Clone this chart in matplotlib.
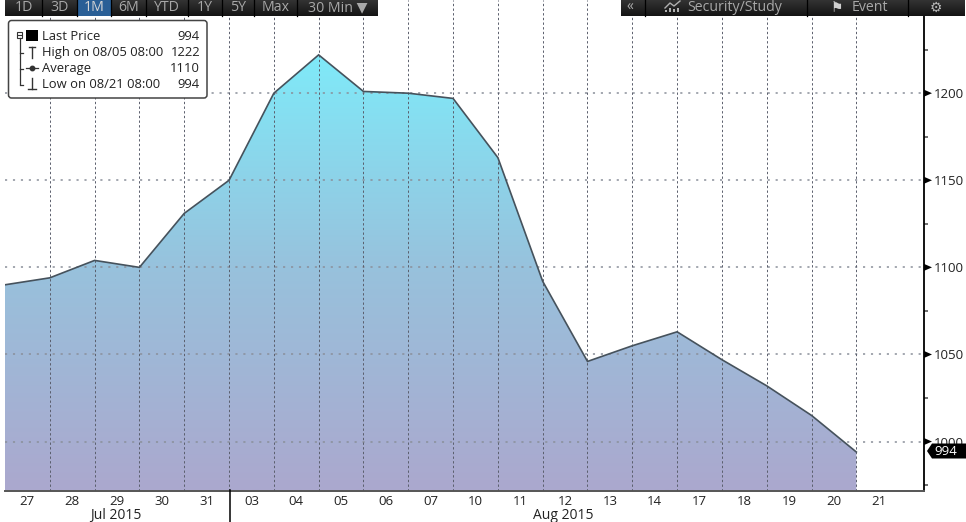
import numpy as np
import matplotlib
matplotlib.use("Agg")
import matplotlib.pyplot as plt
from matplotlib.colors import LinearSegmentedColormap
from matplotlib.patches import FancyBboxPatch, Polygon, Rectangle

plt.rcParams["font.family"] = ["Open Sans", "DejaVu Sans"]

day_labels = ["27", "28", "29", "30", "31", "03", "04", "05", "06", "07",
              "10", "11", "12", "13", "14", "17", "18", "19", "20", "21"]
prices = [1090, 1094, 1104, 1100, 1131, 1150, 1200, 1222, 1201, 1200,
          1197, 1163, 1092, 1046, 1055, 1063, 1047, 1032, 1015, 994]
y_major = [1000, 1050, 1100, 1150, 1200]
y_minor = [975, 1025, 1075, 1125, 1175, 1225]
month_labels = ["Jul 2015", "Aug 2015"]
range_buttons = ["1D", "3D", "1M", "6M", "YTD", "1Y", "5Y", "Max", "30 Min"]
button_edges = [5, 42, 77, 111, 146, 188, 222, 254, 297, 378]
legend_names = ["Last Price", "High on 08/05 08:00", "Average", "Low on 08/21 08:00"]
legend_values = ["994", "1222", "1110", "994"]

W, H = 966, 522
TEXT = "#222222"

fig = plt.figure(figsize=(W / 100, H / 100), dpi=100, facecolor="white")
ax = fig.add_axes([5 / W, 1 - 490.5 / H, 919 / W, 490.5 / H])
x = np.arange(len(prices))
ax.set_xlim(0, 20.51)
ax.set_ylim(971.9, 1253.5)

# area with vertical gradient, clipped to the price polygon
area = ax.fill_between(x, prices, 971.9, color="none", linewidth=0)
cmap = LinearSegmentedColormap.from_list("area", ["#ABA8CE", "#98C1DC", "#7FEAF9"])
img = ax.imshow(np.linspace(0, 1, 256).reshape(-1, 1), cmap=cmap, origin="lower", aspect="auto",
                extent=(0, 20.51, 971.9, max(prices)), zorder=1)
img.set_clip_path(area.get_paths()[0], ax.transData)
ax.set_xlim(0, 20.51)
ax.set_ylim(971.9, 1253.5)

ax.plot(x, prices, color="#46525c", linewidth=1.2, zorder=3, solid_joinstyle="miter")

for v in y_major:
    ax.axhline(v, color="#8a8f9a", linewidth=1.1, linestyle=(0, (1.4, 3.8)), zorder=2)
for i in x[1:]:
    ax.axvline(i, color="#5a5e6c", linewidth=0.7, linestyle=(0, (2.4, 2.4)), zorder=2)

for side in ["top", "left"]:
    ax.spines[side].set_visible(False)
ax.spines["right"].set_color("black")
ax.spines["right"].set_linewidth(1.3)
ax.spines["bottom"].set_color("#555555")
ax.spines["bottom"].set_linewidth(1.4)

ax.set_xticks(x + 0.5)
ax.set_xticklabels(day_labels, fontsize=9.5, color=TEXT)
ax.tick_params(axis="x", length=0, pad=3)
ax.yaxis.tick_right()
ax.set_yticks(y_major)
ax.set_yticklabels([str(v) for v in y_major], fontsize=9.5, color=TEXT)
ax.set_yticks(y_minor, minor=True)
ax.tick_params(axis="y", which="major", length=0, pad=7)
ax.tick_params(axis="y", which="minor", length=3, width=1.2, color="#555555")

# overlay in pixel coordinates for the terminal furniture
ov = fig.add_axes([0, 0, 1, 1], facecolor="none")
ov.set_xlim(0, W)
ov.set_ylim(H, 0)
ov.axis("off")

for v in y_major:
    yp = ax.transData.transform((0, v))[1]
    yp = H - yp
    ov.add_patch(Polygon([[924, yp - 3.5], [924, yp + 3.5], [932, yp]], color="black", lw=0))

# last price tag
ytag = H - ax.transData.transform((0, prices[-1]))[1]
ytag = ytag - 1
ov.add_patch(Polygon([[927, ytag], [932, ytag - 7.5], [966, ytag - 7.5], [966, ytag + 7.5], [932, ytag + 7.5]],
                     color="black", lw=0, zorder=5))
ov.text(934, ytag, str(prices[-1]), color="white", fontsize=9.5, va="center", ha="left", zorder=6)

# month row
ov.plot([229.5, 229.5], [490, 522], color="black", lw=1.1)
ov.text(116, 515.5, month_labels[0], fontsize=10, color=TEXT, ha="center", va="center")
ov.text(563, 515.5, month_labels[1], fontsize=10, color=TEXT, ha="center", va="center")

# toolbars
bar = np.linspace(0, 1, 32).reshape(-1, 1)
bar_cmap = LinearSegmentedColormap.from_list("bar", ["#333333", "#141414"])
for x0, x1 in [(5, 378), (621, 965)]:
    ov.imshow(bar, cmap=bar_cmap, extent=(x0, x1, 16, 0), aspect="auto", zorder=1)
ov.set_xlim(0, W)
ov.set_ylim(H, 0)
ov.add_patch(Rectangle((77, 0), 34, 16, color="#2a5f96", lw=0, zorder=2))
for i, name in enumerate(range_buttons):
    left, right = button_edges[i], button_edges[i + 1]
    label = name + " ▼" if name == "30 Min" else name
    ov.text((left + right) / 2, 7.5, label, color="#d6d6d6" if name == "1M" else "#a8a8a8",
            fontsize=10.2, ha="center", va="center", zorder=3)
    if i > 0:
        ov.plot([left, left], [0, 16], color="black", lw=0.9, zorder=3)
for sep in [645, 807, 908]:
    ov.plot([sep, sep], [0, 16], color="black", lw=0.9, zorder=3)
ov.text(630, 7.5, "«", color="#b0b0b0", fontsize=10, ha="center", va="center", zorder=3)
ov.plot([665, 670, 674, 680], [8, 3, 6, 1], color="#b0b0b0", lw=1, zorder=3)
for px, ph in [(665, 2), (669, 4), (673, 3), (677, 4)]:
    ov.add_patch(Rectangle((px, 12 - ph), 2.2, ph, color="#b0b0b0", lw=0, zorder=3))
ov.text(687, 7.5, "Security/Study", color="#a8a8a8", fontsize=10.2, ha="left", va="center", zorder=3)
ov.text(837, 8, "⚑", color="#d0d0d0", fontsize=10, family="DejaVu Sans", ha="center", va="center", zorder=3)
ov.text(852, 7.5, "Event", color="#a8a8a8", fontsize=10.2, ha="left", va="center", zorder=3)
ov.text(936, 8, "⚙", color="#b8b8b8", fontsize=10, family="DejaVu Sans", ha="center", va="center", zorder=3)

# legend box
ov.add_patch(FancyBboxPatch((8.5, 20.5), 198.5, 77.5, boxstyle="round,pad=0,rounding_size=3",
                            fc="white", ec="#444444", lw=1.1, zorder=4))
rows = [36.5, 52.5, 68.5, 84.5]
for name, val, yr in zip(legend_names, legend_values, rows):
    ov.text(42, yr, name, fontsize=9.4, color=TEXT, va="center", ha="left", zorder=5)
    ov.text(200, yr, val, fontsize=9.4, color=TEXT, va="center", ha="right", zorder=5)
ov.add_patch(Rectangle((26, 30), 12, 11, color="black", lw=0, zorder=5))
ov.add_patch(Rectangle((16.5, 32), 5.5, 5.5, fc="white", ec="#333333", lw=0.8, zorder=5))
ov.plot([18, 21], [34.8, 34.8], color="#333333", lw=0.8, zorder=6)
ov.plot([19.5, 19.5], [38, 84], color="#333333", lw=0.9, zorder=5)
for yr in rows[1:]:
    ov.plot([19.5, 23], [yr, yr], color="#333333", lw=0.9, zorder=5)
ov.plot([32, 32], [47, 58], color="#333333", lw=1, zorder=5)
ov.plot([29, 35], [47, 47], color="#333333", lw=1, zorder=5)
ov.plot([26, 38], [68, 68], color="#333333", lw=0.9, zorder=5)
ov.plot([32], [68], marker="o", ms=3.2, color="#333333", zorder=6)
ov.plot([32, 32], [78, 89], color="#333333", lw=1, zorder=5)
ov.plot([28, 36], [89, 89], color="#333333", lw=1, zorder=5)

fig.savefig("out.png", dpi=100, facecolor="white")
